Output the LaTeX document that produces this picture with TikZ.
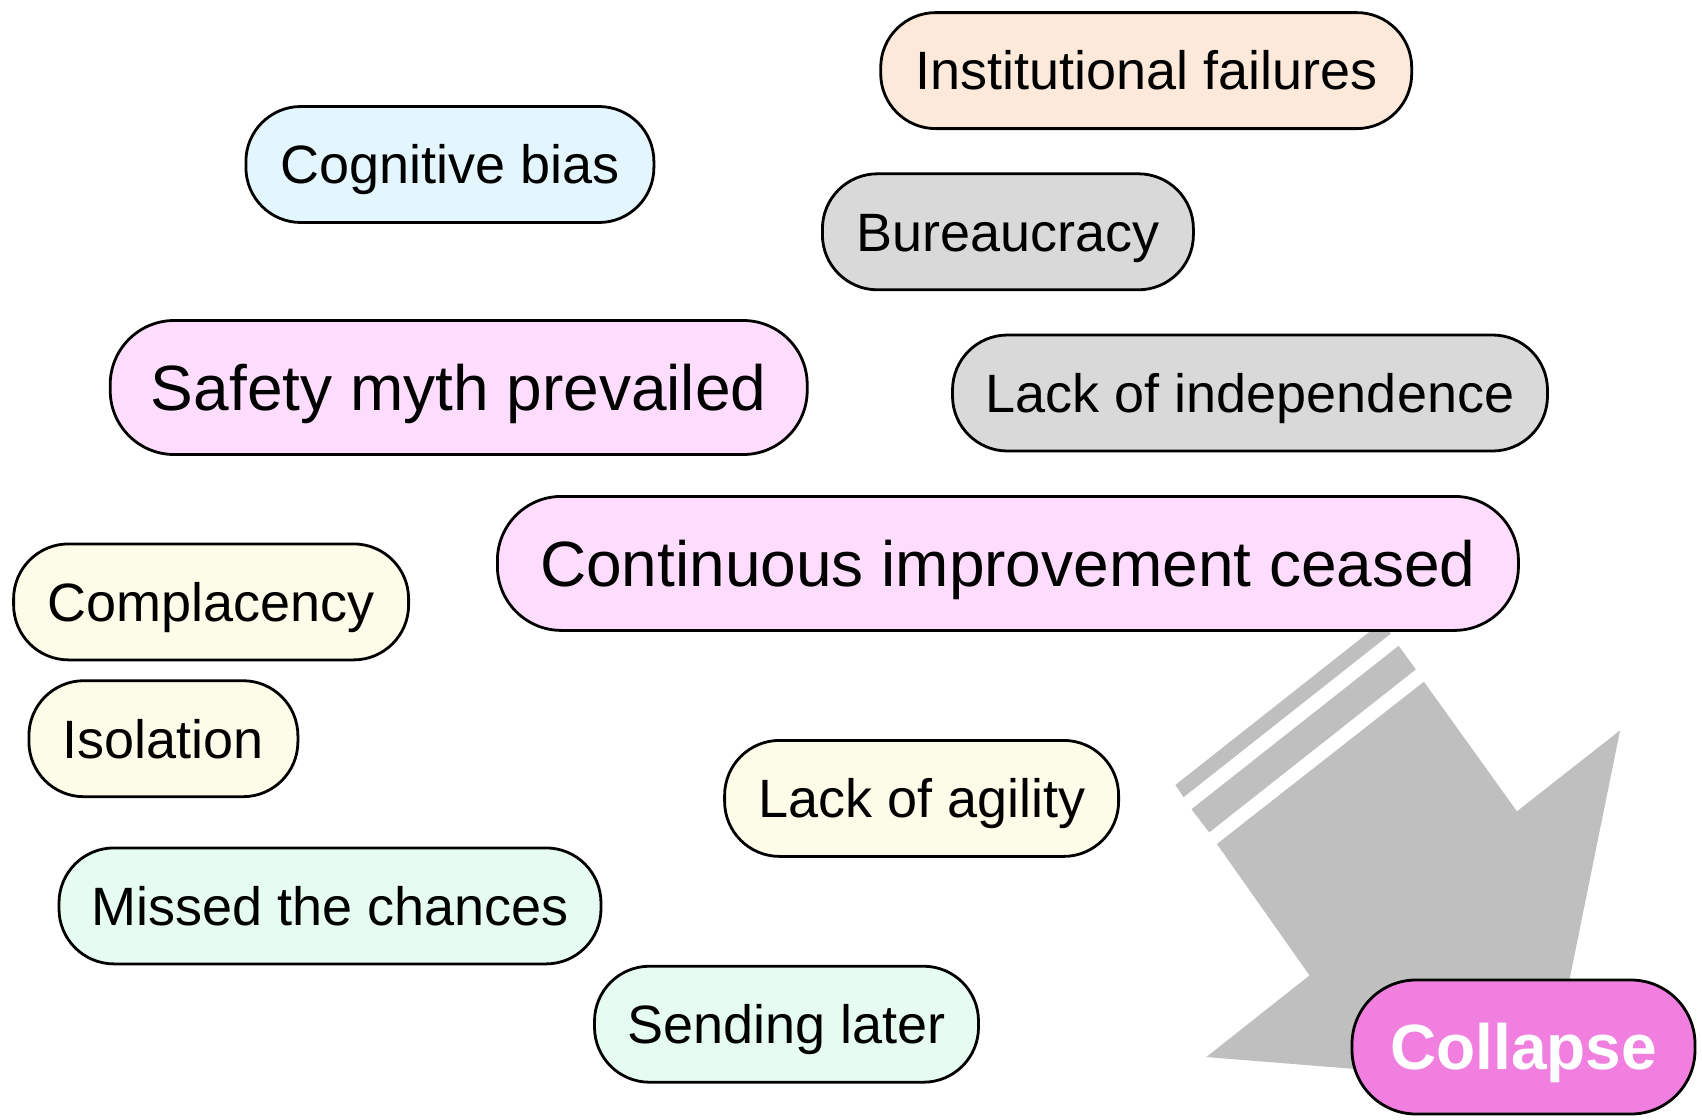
\documentclass[tikz,border=0pt]{standalone}
\usepackage{fontspec}
\setmainfont{Liberation Sans}
\definecolor{cpeach}{HTML}{FCE9DA}
\definecolor{cblue}{HTML}{E4F6FD}
\definecolor{cgray}{HTML}{D9D9D9}
\definecolor{cpink}{HTML}{FEDCFD}
\definecolor{ccream}{HTML}{FCFCE9}
\definecolor{cmint}{HTML}{E6FCF0}
\definecolor{cmagenta}{HTML}{F17FE0}
\definecolor{carrow}{HTML}{BFBFBF}
\tikzset{
  pill/.style={draw=black, line width=2.8pt, inner sep=0pt, text depth=0pt},
  smallpill/.style={pill, minimum height=116pt, rounded corners=55pt, text height=38.7pt, font=\fontsize{54}{60}\selectfont},
  bigpill/.style={pill, minimum height=134pt, rounded corners=64pt, text height=45.8pt, font=\fontsize{64}{70}\selectfont},
  arrowfill/.style={fill=carrow, draw=none}
}
\begin{document}
\begin{tikzpicture}[x=1pt, y=-1pt]
\useasboundingbox (0,0) rectangle (1702,1119);
% big gray arrow with stripes
\fill[arrowfill] (1175.4,784.9) -- (1382.5,621.5) -- (1390.6,633.8) -- (1183.5,797.2) -- cycle;
\fill[arrowfill] (1191.5,809.2) -- (1398.6,645.8) -- (1415.8,669.4) -- (1209.2,832.4) -- cycle;
\fill[arrowfill] (1216.9,844) -- (1423.9,681.7) -- (1516.9,811.3) -- (1620.1,730.3) -- (1548.2,1084.5) -- (1206.3,1057) -- (1309.5,975.4) -- cycle;
% nodes
\node[smallpill, fill=cpeach, minimum width=531pt] (inst) at (1146.2,70.6) {Institutional failures};
\node[smallpill, fill=cblue, minimum width=408pt] (cog) at (449.9,164.5) {Cognitive bias};
\node[smallpill, fill=cgray, minimum width=371pt] (bur) at (1007.9,231.8) {Bureaucracy};
\node[bigpill, fill=cpink, minimum width=697pt] (safety) at (458.7,387.5) {Safety myth prevailed};
\node[smallpill, fill=cgray, minimum width=595pt] (lind) at (1250,393) {Lack of independence};
\node[bigpill, fill=cpink, minimum width=1021pt] (cont) at (1007.9,563.4) {Continuous improvement ceased};
\node[smallpill, fill=ccream, minimum width=395pt] (comp) at (211.1,601.9) {Complacency};
\node[smallpill, fill=ccream, minimum width=269pt] (iso) at (163.4,738.7) {Isolation};
\node[smallpill, fill=ccream, minimum width=394pt] (agil) at (921.6,798.4) {Lack of agility};
\node[smallpill, fill=cmint, minimum width=542pt] (missed) at (330,905.9) {Missed the chances};
\node[smallpill, fill=cmint, minimum width=384pt] (send) at (786.5,1024.2) {Sending later};
\node[bigpill, fill=cmagenta, minimum width=343pt, text=white, font=\fontsize{64}{70}\selectfont\bfseries] (collapse) at (1523.5,1047) {Collapse};
\end{tikzpicture}
\end{document}
